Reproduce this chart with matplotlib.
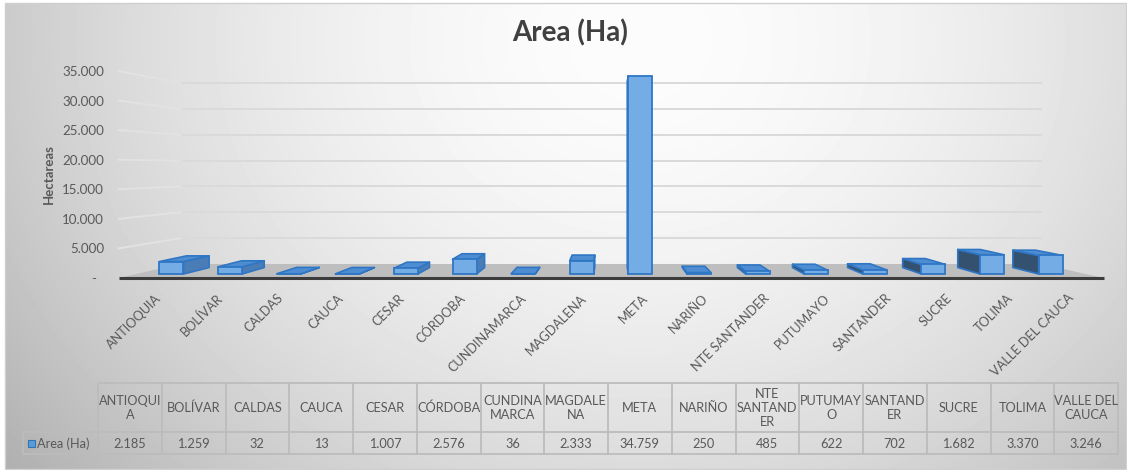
import numpy as np
import matplotlib
matplotlib.use("Agg")
import matplotlib.pyplot as plt
from matplotlib.patches import Polygon, Rectangle

plt.rcParams['font.family'] = ['Lato', 'DejaVu Sans']

# ---- data -------------------------------------------------------------
categories = ["ANTIOQUIA", "BOLÍVAR", "CALDAS", "CAUCA", "CESAR", "CÓRDOBA",
              "CUNDINAMARCA", "MAGDALENA", "META", "NARIÑO", "NTE SANTANDER",
              "PUTUMAYO", "SANTANDER", "SUCRE", "TOLIMA", "VALLE DEL CAUCA"]
table_headers = ["ANTIOQUI\nA", "BOLÍVAR", "CALDAS", "CAUCA", "CESAR", "CÓRDOBA",
                 "CUNDINA\nMARCA", "MAGDALE\nNA", "META", "NARIÑO",
                 "NTE\nSANTAND\nER", "PUTUMAY\nO", "SANTAND\nER", "SUCRE",
                 "TOLIMA", "VALLE DEL\nCAUCA"]
area_ha = [2185, 1259, 32, 13, 1007, 2576, 36, 2333, 34759, 250, 485, 622,
           702, 1682, 3370, 3246]
series_name = "Area (Ha)"
y_ticks = [0, 5000, 10000, 15000, 20000, 25000, 30000, 35000]
title = "Area (Ha)"
y_title = "Hectareas"

FS = 9.2          # size of the small chart text
TXT = "#595959"


def thousands(v):
    return "-  " if v == 0 else f"{v:,}".replace(",", ".")


# ---- figure / background ---------------------------------------------
W, H = 1127, 470
fig = plt.figure(figsize=(W / 100, H / 100), dpi=100)
fig.patch.set_facecolor("white")

bg = fig.add_axes([0, 0, 1, 1], zorder=0)
bg.set_xlim(0, W)
bg.set_ylim(H, 0)
bg.axis("off")

yy, xx = np.mgrid[3:H, 5:W].astype(float)
r = np.sqrt(((xx - 640) / 640) ** 2 + ((yy - 40) / 540) ** 2)
shade = 252 - 50 * np.clip(r, 0, 1.3) ** 1.8
bg.imshow(shade, extent=(5, W, H, 3), cmap="gray", vmin=0, vmax=255,
          aspect="auto", interpolation="bilinear", zorder=0)
bg.add_patch(Rectangle((5, 3), W - 6, H - 4, fill=False, ec="#cfcfcf", lw=1, zorder=1))

# ---- 3-D column plot ---------------------------------------------------
ax = fig.add_axes([118.6 / W, (H - 278) / H, 985 / W, 207 / H], zorder=2)
ax.set_xlim(-0.6, 15.6)
ax.set_ylim(0, 35000)
ax.patch.set_alpha(0)
for s in ax.spines.values():
    s.set_visible(False)

VX, VY = 7.48, 18770.0   # vanishing point in front-plane coordinates
K = 0.126                # perspective shrink from front (d=0) to back wall (d=1)
X_LO, X_HI = -0.6, 15.6


def proj(x, v, d):
    s = 1 - K * d
    return VX + (x - VX) * s, VY + (v - VY) * s


# floor
ax.add_patch(Polygon([proj(X_LO, 0, 0), proj(X_HI, 0, 0), proj(X_HI, 0, 1),
                      proj(X_LO, 0, 1)], closed=True, fc="#bebebe", ec="none",
                     zorder=2, clip_on=False))
ax.plot([X_LO, X_HI], [0, 0], color="#3c3c3c", lw=2.2, solid_capstyle="butt",
        zorder=3, clip_on=False)

# gridlines on back wall and left side wall
for v in y_ticks[1:]:
    a, b = proj(X_LO, v, 1), proj(X_HI, v, 1)
    ax.plot([a[0], b[0]], [a[1], b[1]], color="#dadada", lw=1.4, zorder=1, clip_on=False)
    c = proj(X_LO, v, 0)
    ax.plot([c[0], a[0]], [c[1], a[1]], color="#e2e2e2", lw=1.4, zorder=1, clip_on=False)

# columns
HW = 0.205
D_FRONT, D_BACK = 0.286, 0.746
EDGE = "#2f76c4"
for i, v in enumerate(area_ha):
    x0, x1 = i - HW, i + HW
    if x1 < VX:
        xs = x1
        side_col = "#4a7db5"
    else:
        xs = x0
        side_col = "#34516f"
    side = [proj(xs, 0, D_FRONT), proj(xs, 0, D_BACK), proj(xs, v, D_BACK), proj(xs, v, D_FRONT)]
    ax.add_patch(Polygon(side, closed=True, fc=side_col, ec=EDGE, lw=1.2,
                         joinstyle="round", zorder=4))
    if v < VY:
        top = [proj(x0, v, D_FRONT), proj(x1, v, D_FRONT), proj(x1, v, D_BACK), proj(x0, v, D_BACK)]
        ax.add_patch(Polygon(top, closed=True, fc="#4e8dd2", ec=EDGE, lw=1.2,
                             joinstyle="round", zorder=5))
    fx0, fb = proj(x0, 0, D_FRONT)
    fx1, ft = proj(x1, v, D_FRONT)
    ax.bar((fx0 + fx1) / 2, ft - fb, bottom=fb, width=fx1 - fx0, color="#74ace6",
           edgecolor=EDGE, linewidth=1.3, zorder=6)

# axes text
ax.set_yticks(y_ticks)
ax.set_yticklabels([thousands(v) for v in y_ticks])
ax.tick_params(axis="y", length=0, pad=10.5, labelsize=FS + 0.4, labelcolor=TXT)
ax.set_xticks(range(len(categories)))
ax.set_xticklabels(categories, rotation=45, ha="right", va="top", rotation_mode="anchor")
ax.tick_params(axis="x", length=0, pad=10, labelsize=FS, labelcolor=TXT)
ax.set_ylabel(y_title, fontsize=FS + 0.3, fontweight="bold", color=TXT)
ax.yaxis.set_label_coords((55 - 118.6) / 985, 0.5)

fig.text(570 / W, 1 - 33 / H, title, fontsize=20, fontweight="bold",
         color="#404040", ha="center", va="center")

# ---- data table --------------------------------------------------------
T_X0, T_CW = 98, 63.75
T_TOP, T_MID, T_BOT = 383, 432, 454
LEG_X0 = 23
GRID = "#bcbcbc"
n = len(categories)
T_X1 = T_X0 + n * T_CW
bg.plot([T_X0, T_X1], [T_TOP, T_TOP], color=GRID, lw=1.3, zorder=2)
bg.plot([LEG_X0, T_X1], [T_MID, T_MID], color=GRID, lw=1.3, zorder=2)
bg.plot([LEG_X0, T_X1], [T_BOT, T_BOT], color=GRID, lw=1.3, zorder=2)
bg.plot([LEG_X0, LEG_X0], [T_MID, T_BOT], color=GRID, lw=1.3, zorder=2)
for k in range(n + 1):
    xk = T_X0 + k * T_CW
    bg.plot([xk, xk], [T_TOP, T_BOT], color=GRID, lw=1.3, zorder=2)
for k, (hdr, v) in enumerate(zip(table_headers, area_ha)):
    xc = T_X0 + (k + 0.5) * T_CW
    bg.text(xc, (T_TOP + T_MID) / 2 + 0.5, hdr, ha="center", va="center", fontsize=FS,
            color=TXT, linespacing=1.25, multialignment="center", zorder=3)
    bg.text(xc, (T_MID + T_BOT) / 2 + 0.5, thousands(v).strip(), ha="center", va="center",
            fontsize=FS, color=TXT, zorder=3)
bg.add_patch(Rectangle((27.5, 439.5), 7, 7, fc="#5b9bd5", ec="#2e75b6", lw=0.8, zorder=3))
bg.text(37, (T_MID + T_BOT) / 2 + 0.5, series_name, ha="left", va="center",
        fontsize=FS, color=TXT, zorder=3)

fig.savefig("out.png", dpi=100)
